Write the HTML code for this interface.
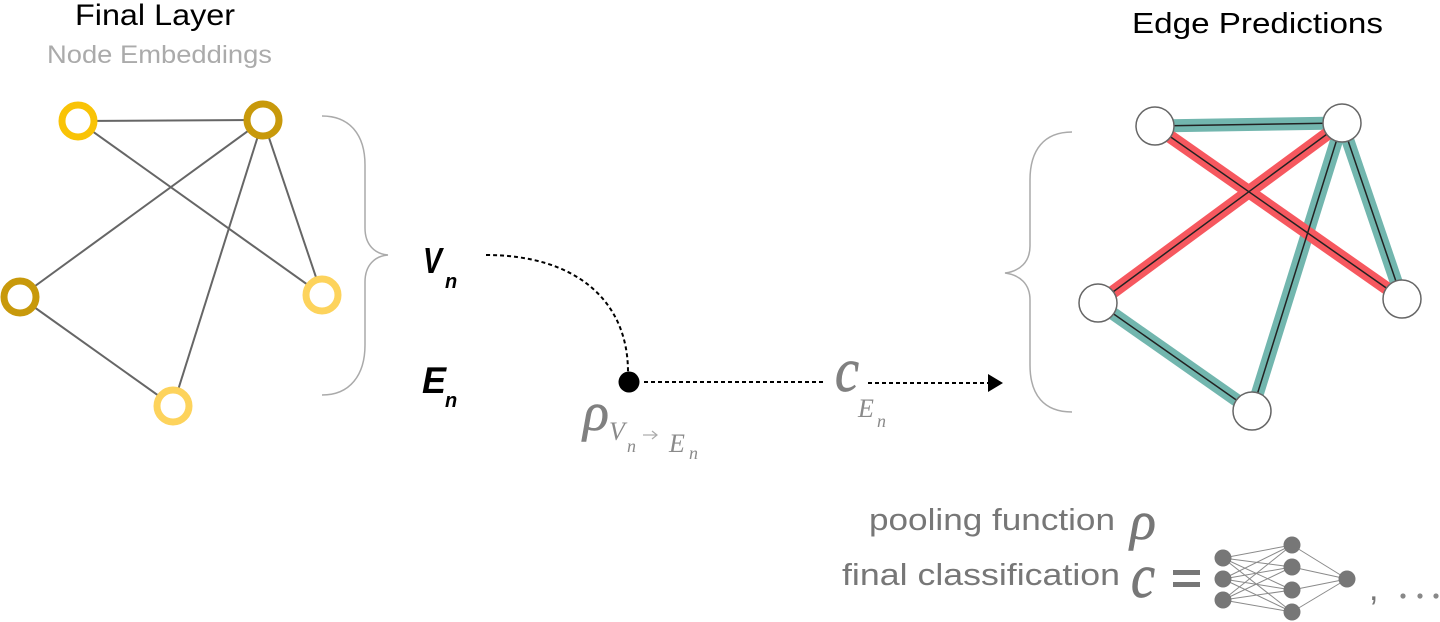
<!DOCTYPE html>
<html><head><meta charset="utf-8"><style>
html,body{margin:0;padding:0;background:#fff;}
svg{display:block;}
</style></head><body>
<svg width="1440" height="622" viewBox="0 0 1440 622" xmlns="http://www.w3.org/2000/svg">
<rect width="1440" height="622" fill="#fff"/>
<!-- Titles -->
<text x="75" y="25" font-family="Liberation Sans, sans-serif" font-size="30" fill="#000" textLength="160" lengthAdjust="spacingAndGlyphs">Final Layer</text>
<text x="47" y="63" font-family="Liberation Sans, sans-serif" font-size="25" fill="#ababab" textLength="225" lengthAdjust="spacingAndGlyphs">Node Embeddings</text>
<text x="1132" y="33" font-family="Liberation Sans, sans-serif" font-size="29" fill="#000" textLength="251" lengthAdjust="spacingAndGlyphs">Edge Predictions</text>

<!-- Left graph edges -->
<g stroke="#666" stroke-width="2" fill="none">
<line x1="78" y1="121" x2="263" y2="120"/>
<line x1="78" y1="121" x2="322" y2="295"/>
<line x1="263" y1="120" x2="20" y2="297"/>
<line x1="263" y1="120" x2="322" y2="295"/>
<line x1="263" y1="120" x2="173" y2="406"/>
<line x1="20" y1="297" x2="173" y2="406"/>
</g>
<g fill="#fff" stroke-width="7">
<circle cx="78" cy="121" r="16" stroke="#f9c306"/>
<circle cx="263" cy="120" r="16" stroke="#c8990b"/>
<circle cx="20" cy="297" r="16" stroke="#c8990b"/>
<circle cx="322" cy="295" r="16" stroke="#fdd35c"/>
<circle cx="173" cy="406" r="16" stroke="#fdd35c"/>
</g>

<!-- Left brace -->
<path d="M322,116 C350,116 365,135 365,165 L365,228 C365,245 375,254 388,255 C375,256 365,265 365,282 L365,345 C365,375 350,395 322,395" fill="none" stroke="#aaa" stroke-width="1.5"/>

<!-- Right brace -->
<path d="M1072,132 C1044,132 1030,150 1030,180 L1030,246 C1030,262 1020,271 1005,273 C1020,275 1030,284 1030,300 L1030,365 C1030,395 1044,412 1072,412" fill="none" stroke="#aaa" stroke-width="1.5"/>

<!-- V_n, E_n -->
<text x="423" y="273" font-family="Liberation Sans, sans-serif" font-weight="bold" font-style="italic" font-size="36" fill="#000" textLength="19" lengthAdjust="spacingAndGlyphs">V</text>
<text x="445" y="288" font-family="Liberation Sans, sans-serif" font-weight="bold" font-style="italic" font-size="20" fill="#000">n</text>
<text x="422" y="393" font-family="Liberation Sans, sans-serif" font-weight="bold" font-style="italic" font-size="37" fill="#000" textLength="24" lengthAdjust="spacingAndGlyphs">E</text>
<text x="445" y="407" font-family="Liberation Sans, sans-serif" font-weight="bold" font-style="italic" font-size="20" fill="#000">n</text>

<!-- dashed connectors -->
<g stroke="#000" stroke-width="2" fill="none" stroke-dasharray="4,3">
<path d="M486,255 C575,255 628,300 628,372"/>
<line x1="644" y1="382" x2="826" y2="382"/>
<line x1="868" y1="383" x2="989" y2="383"/>
</g>
<circle cx="629" cy="382" r="10.5" fill="#000"/>
<polygon points="988,374 1003,383 988,392" fill="#000"/>

<!-- rho with subscript -->
<text x="583" y="430" font-family="Liberation Serif, serif" font-style="italic" font-size="54" fill="#808080" stroke="#808080" stroke-width="0.6">ρ</text>
<text x="609" y="440" font-family="Liberation Serif, serif" font-style="italic" font-size="26" fill="#8a8a8a">V</text>
<text x="627" y="452" font-family="Liberation Serif, serif" font-style="italic" font-size="18" fill="#8a8a8a">n</text>
<g stroke="#aaa" stroke-width="1.2" fill="none">
<line x1="643" y1="435" x2="657" y2="435"/>
<polyline points="652,431 657,435 652,439"/>
</g>
<text x="669" y="452" font-family="Liberation Serif, serif" font-style="italic" font-size="26" fill="#8a8a8a">E</text>
<text x="689" y="459" font-family="Liberation Serif, serif" font-style="italic" font-size="18" fill="#8a8a8a">n</text>

<!-- c with subscript -->
<text x="835" y="391" font-family="Liberation Serif, serif" font-style="italic" font-size="62" fill="#808080" stroke="#808080" stroke-width="0.8" textLength="24" lengthAdjust="spacingAndGlyphs">c</text>
<text x="858" y="417" font-family="Liberation Serif, serif" font-style="italic" font-size="26" fill="#8a8a8a">E</text>
<text x="877" y="427" font-family="Liberation Serif, serif" font-style="italic" font-size="18" fill="#8a8a8a">n</text>

<!-- Right graph edges -->
<g stroke-width="13" fill="none" stroke-linecap="butt">
<line x1="1155" y1="126" x2="1342" y2="123" stroke="#72b6ae"/>
<line x1="1342" y1="123" x2="1402" y2="299" stroke="#72b6ae"/>
<line x1="1342" y1="123" x2="1252" y2="411" stroke="#72b6ae"/>
<line x1="1098" y1="303" x2="1252" y2="411" stroke="#72b6ae"/>
<line x1="1155" y1="126" x2="1402" y2="299" stroke="#f6585f"/>
<line x1="1342" y1="123" x2="1098" y2="303" stroke="#f6585f"/>
</g>
<g stroke="#222" stroke-width="1.5" fill="none">
<line x1="1155" y1="126" x2="1342" y2="123"/>
<line x1="1342" y1="123" x2="1402" y2="299"/>
<line x1="1342" y1="123" x2="1252" y2="411"/>
<line x1="1098" y1="303" x2="1252" y2="411"/>
<line x1="1155" y1="126" x2="1402" y2="299"/>
<line x1="1342" y1="123" x2="1098" y2="303"/>
</g>
<g fill="#fff" stroke="#666" stroke-width="1.5">
<circle cx="1155" cy="126" r="19"/>
<circle cx="1342" cy="123" r="19"/>
<circle cx="1098" cy="303" r="19"/>
<circle cx="1402" cy="299" r="19"/>
<circle cx="1252" cy="411" r="19"/>
</g>

<!-- Legend -->
<text x="869" y="530" font-family="Liberation Sans, sans-serif" font-size="31" fill="#777" textLength="246" lengthAdjust="spacingAndGlyphs">pooling function</text>
<text x="1130" y="539" font-family="Liberation Serif, serif" font-style="italic" font-size="54" fill="#777" stroke="#777" stroke-width="0.6">ρ</text>
<text x="842" y="585" font-family="Liberation Sans, sans-serif" font-size="31" fill="#777" textLength="278" lengthAdjust="spacingAndGlyphs">final classification</text>
<text x="1131" y="597" font-family="Liberation Serif, serif" font-style="italic" font-size="62" fill="#777" stroke="#777" stroke-width="0.8" textLength="24" lengthAdjust="spacingAndGlyphs">c</text>
<rect x="1173" y="570" width="27" height="5" fill="#777"/>
<rect x="1173" y="582" width="27" height="5" fill="#777"/>

<!-- NN icon -->
<g stroke="#8a8a8a" stroke-width="1">
<line x1="1223" y1="558" x2="1292" y2="545"/><line x1="1223" y1="558" x2="1292" y2="567"/><line x1="1223" y1="558" x2="1292" y2="590"/><line x1="1223" y1="558" x2="1292" y2="612"/>
<line x1="1223" y1="579" x2="1292" y2="545"/><line x1="1223" y1="579" x2="1292" y2="567"/><line x1="1223" y1="579" x2="1292" y2="590"/><line x1="1223" y1="579" x2="1292" y2="612"/>
<line x1="1223" y1="600" x2="1292" y2="545"/><line x1="1223" y1="600" x2="1292" y2="567"/><line x1="1223" y1="600" x2="1292" y2="590"/><line x1="1223" y1="600" x2="1292" y2="612"/>
<line x1="1292" y1="545" x2="1347" y2="579"/><line x1="1292" y1="567" x2="1347" y2="579"/><line x1="1292" y1="590" x2="1347" y2="579"/><line x1="1292" y1="612" x2="1347" y2="579"/>
</g>
<g fill="#777">
<circle cx="1223" cy="558" r="8.5"/><circle cx="1223" cy="579" r="8.5"/><circle cx="1223" cy="600" r="8.5"/>
<circle cx="1292" cy="545" r="8.5"/><circle cx="1292" cy="567" r="8.5"/><circle cx="1292" cy="590" r="8.5"/><circle cx="1292" cy="612" r="8.5"/>
<circle cx="1347" cy="579" r="8.5"/>
</g>
<text x="1369" y="600" font-family="Liberation Sans, sans-serif" font-size="34" fill="#777">,</text>
<g fill="#888">
<circle cx="1403" cy="596" r="2.6"/><circle cx="1420" cy="596" r="2.6"/><circle cx="1436" cy="596" r="2.6"/>
</g>
</svg>
</body></html>
